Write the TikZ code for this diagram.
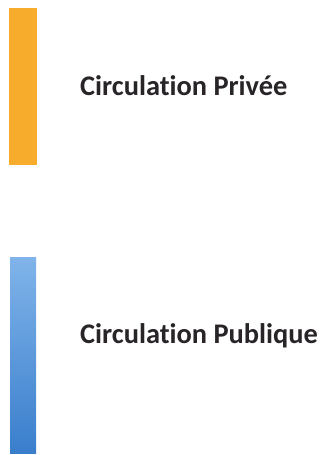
\documentclass[tikz,border=0pt]{standalone}
\usepackage{fontspec}
\setmainfont{Carlito}[Ligatures=NoCommon]
\definecolor{orangebar}{RGB}{248,172,44}
\definecolor{bluetop}{RGB}{128,180,234}
\definecolor{bluebot}{RGB}{58,126,204}
\definecolor{labeltext}{RGB}{40,36,40}
\begin{document}
\begin{tikzpicture}[x=1pt,y=-1pt,
  label/.style={anchor=base west,inner sep=0pt,text=labeltext,font=\fontsize{28.4}{34}\selectfont\bfseries}]
\useasboundingbox (0,0) rectangle (321,455);
\fill[white] (0,0) rectangle (321,455);
\fill[orangebar] (9,8) rectangle (37,165);
\shade[top color=bluetop,bottom color=bluebot] (10,257) rectangle (36,453);
\node[label] (priv) at (80,95) {Circulation Privée};
\node[label] (pub) at (80,343) {Circulation Publique};
\end{tikzpicture}
\end{document}
